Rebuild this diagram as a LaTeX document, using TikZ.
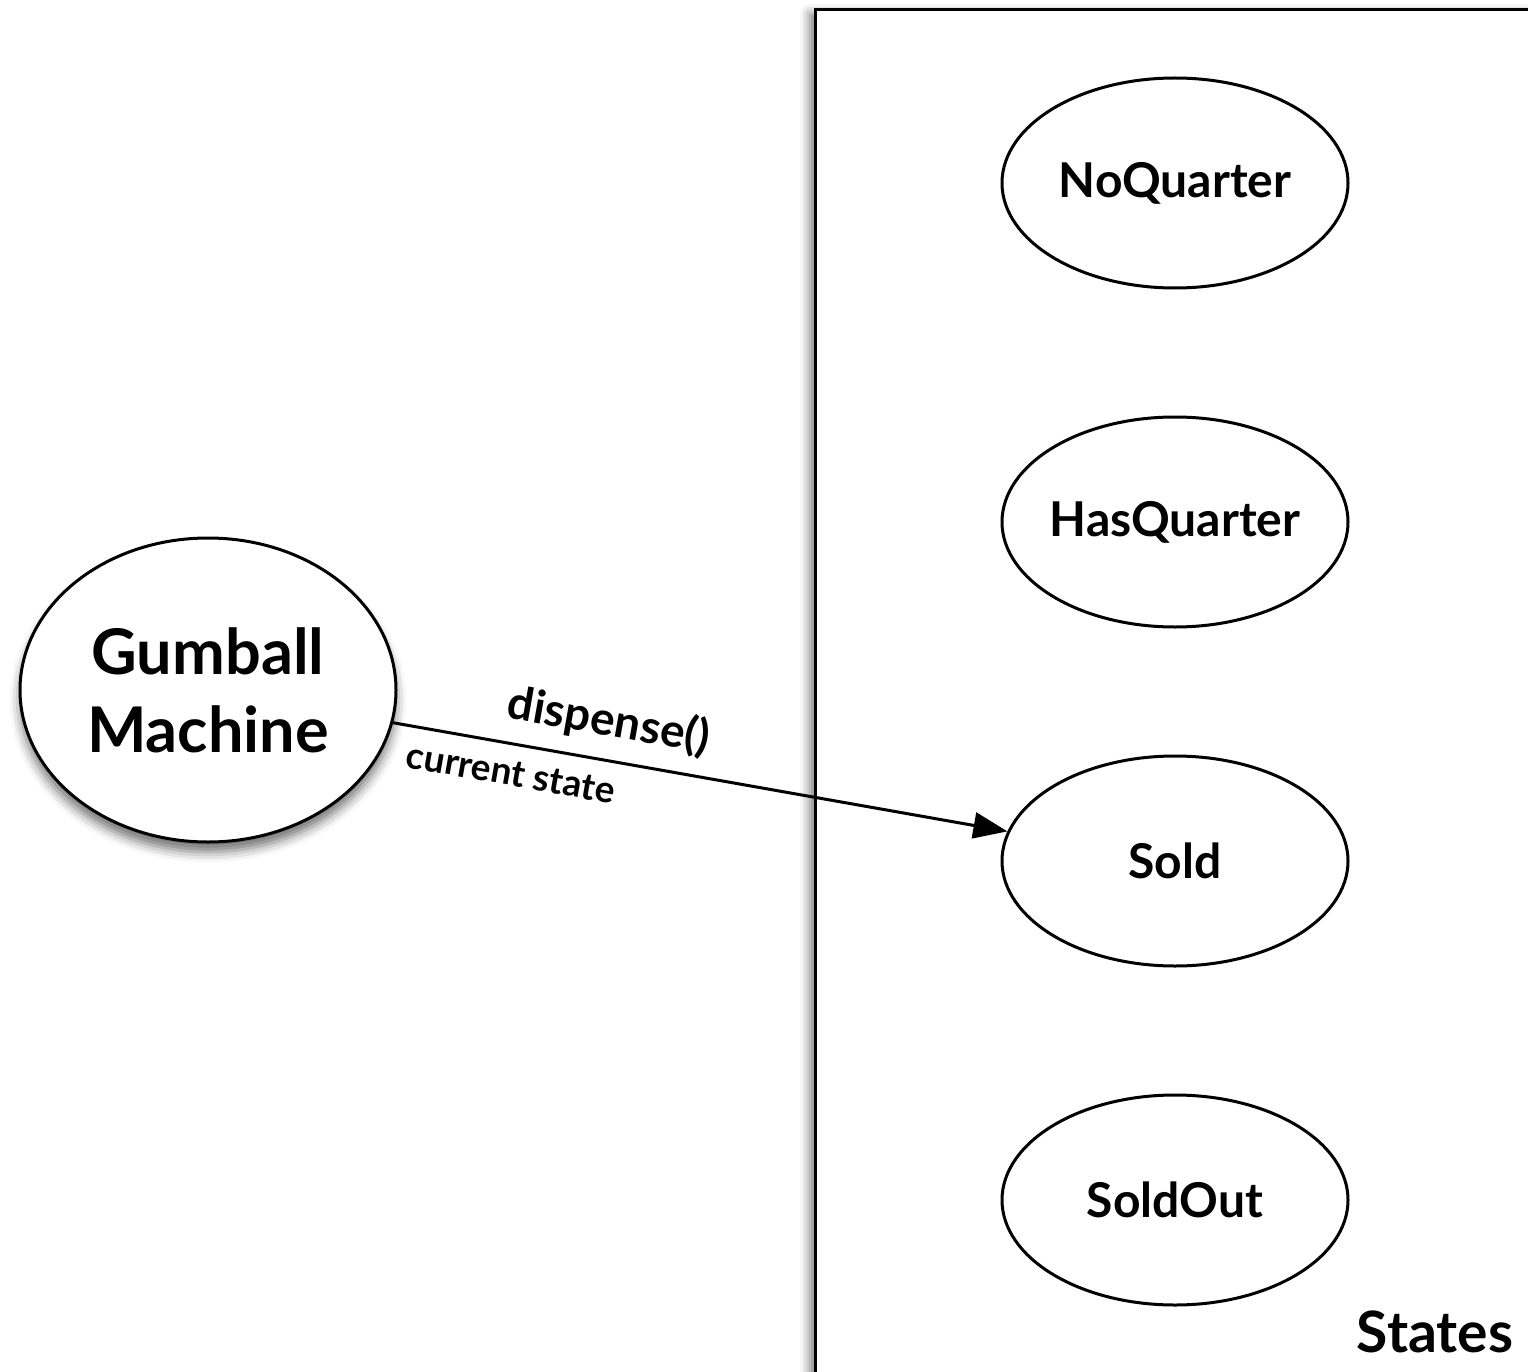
\documentclass[tikz,border=0pt]{standalone}
\usepackage{fontspec}
\setmainfont{Lato}
\usetikzlibrary{shapes.geometric, positioning, arrows.meta, shadows.blur}

\begin{document}
\begin{tikzpicture}[x=1pt, y=-1pt, node distance=339pt, on grid, >={Triangle[length=34pt, width=26pt, fill=black]}, line width=3pt,
    state/.style={ellipse, draw, fill=white, inner xsep=-20pt, minimum width=346pt, minimum height=210pt, font=\fontsize{48}{54}\selectfont\bfseries},
    machine/.style={ellipse, draw, fill=white, inner xsep=-10pt, minimum width=376pt, minimum height=304pt, align=center, font=\fontsize{63}{78}\selectfont\bfseries,
        blur shadow={shadow xshift=0pt, shadow yshift=-10pt, shadow blur radius=10pt, shadow opacity=55}}]
    \useasboundingbox (0,0) rectangle (1528,1372);
    \clip (0,0) rectangle (1528,1372);

    % Context
    \node[machine] (gm) at (208,690) {Gumball\\Machine};

    % States box
    \draw[fill=white, blur shadow={shadow xshift=-5pt, shadow yshift=-4pt, shadow blur radius=10pt, shadow opacity=55}]
        (815,10) rectangle (1600,1420);
    \node[anchor=base east, font=\fontsize{57}{60}\selectfont\bfseries] (states) at (1518,1352) {States};

    % Nodes
    \node[state] (noq) at (1175,183) {NoQuarter};
    \node[state] (hasq) [below=of noq] {HasQuarter};
    \node[state] (sold) [below=of hasq] {Sold};
    \node[state] (soldout) [below=of sold] {SoldOut};

    % Current state
    \draw[->]
        (gm) -- node [sloped, above, pos=0.34, yshift=12pt, font=\fontsize{46}{50}\selectfont\bfseries] {dispense()}
                node [sloped, below, pos=0.2, yshift=-12pt, font=\fontsize{37}{40}\selectfont\bfseries] {current state} (sold);
\end{tikzpicture}
\end{document}
